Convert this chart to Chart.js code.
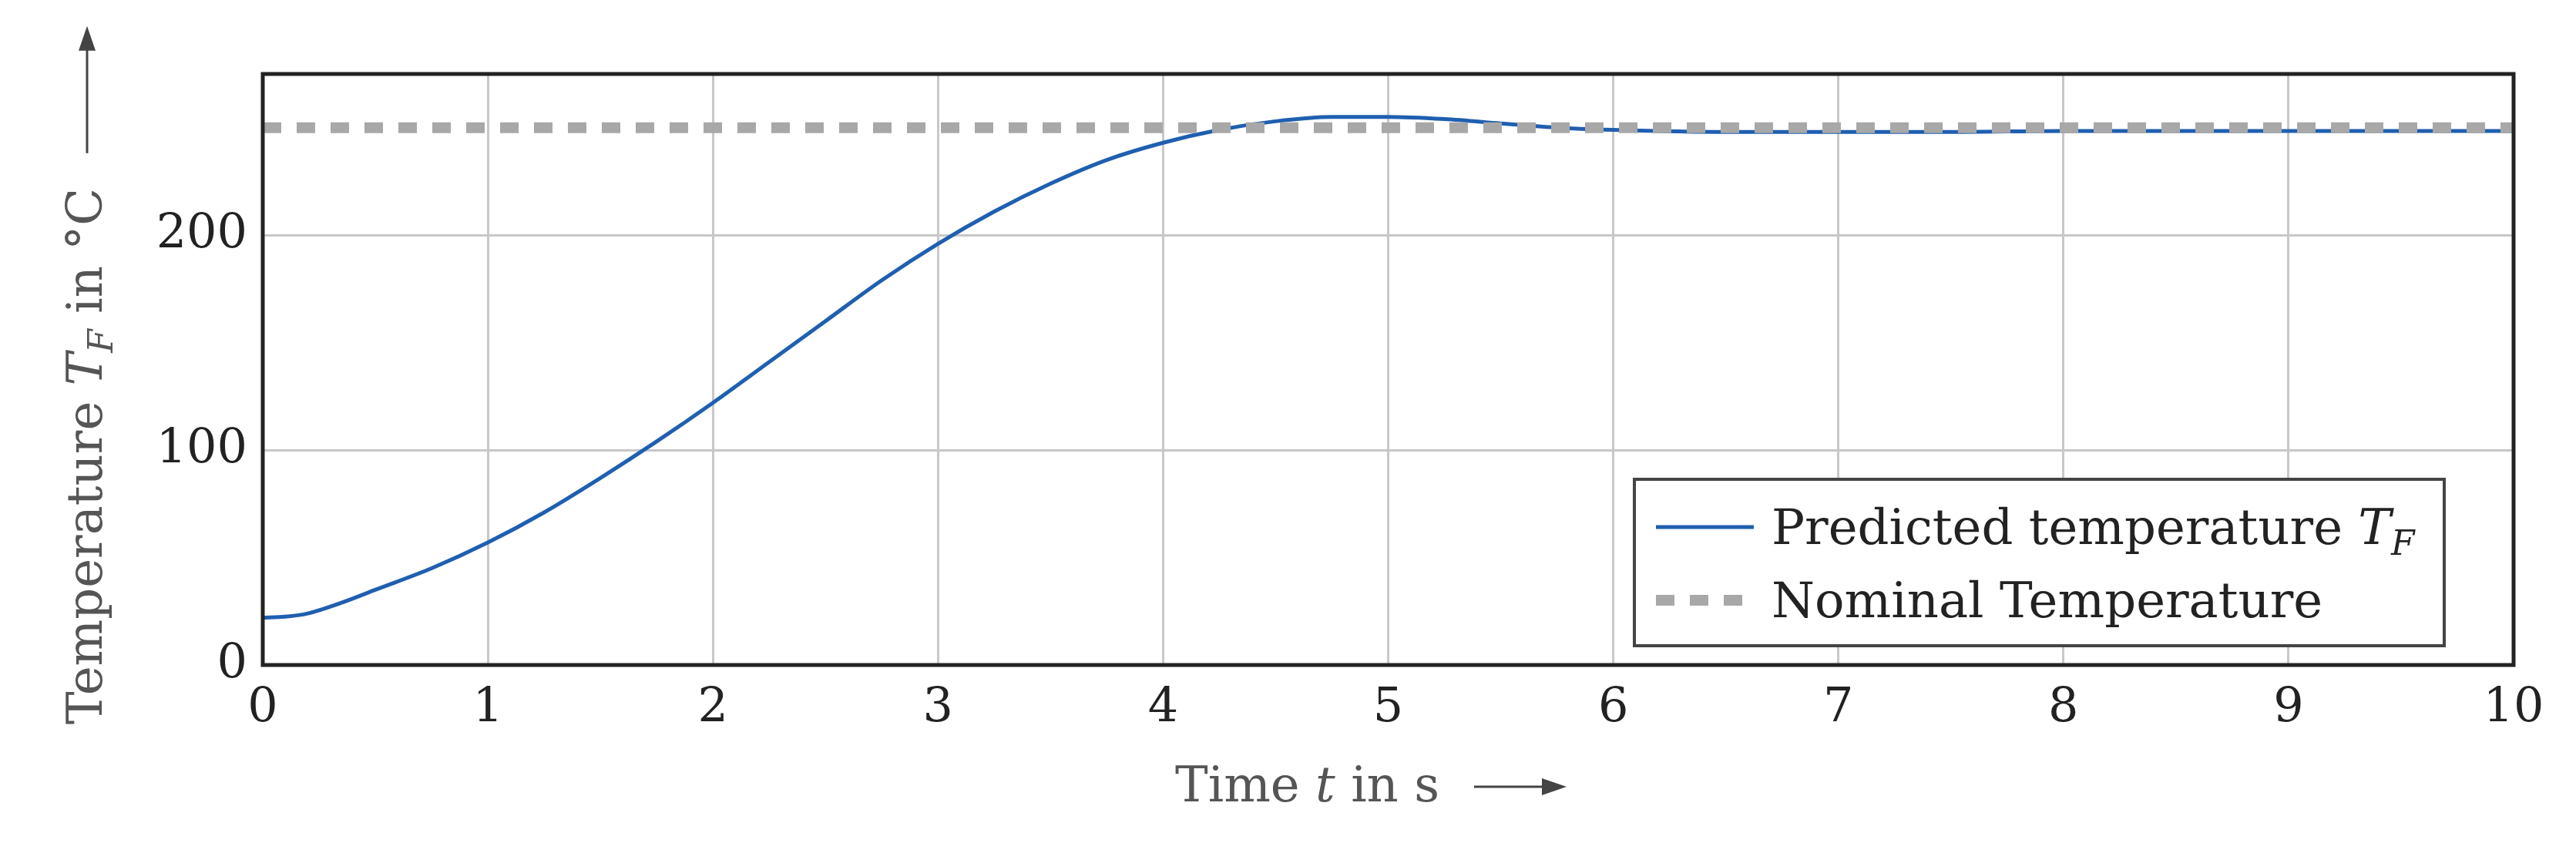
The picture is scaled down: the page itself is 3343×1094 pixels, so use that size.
<!DOCTYPE html>
<html><head><meta charset="utf-8">
<script src="https://cdn.jsdelivr.net/npm/chart.js@4/dist/chart.umd.min.js"></script>
<style>html,body{margin:0;padding:0;background:#fff}#w{width:3343px;height:1094px}</style>
</head><body><div id="w"><canvas id="c"></canvas></div>
<script>
const timeS = [0,0.1,0.2,0.35,0.5,0.75,1,1.25,1.5,1.75,2,2.25,2.5,2.75,3,3.25,3.5,3.75,4,4.25,4.5,4.75,5,5.25,5.5,5.75,6,6.5,7,7.5,8,8.5,9,9.5,10];
const predictedTF = [22,22.5,24,29,35,45,57,71,87,104,122,141,160,179,196,211,224,235,243,249,253,255,255,254,252,250,249,248,248,248,248.5,248.5,248.5,248.5,248.5];
const nominalT = [250,250];
const nominalTime = [0,10];
const xTicks = [0,1,2,3,4,5,6,7,8,9,10];
const yTicks = [0,100,200];
const FONT = '"DejaVu Serif","Liberation Serif",serif';

const overlay = {
  id:'overlay',
  afterDraw(ch){
    const c = ch.ctx, a = ch.chartArea;
    c.save();
    c.strokeStyle='#222'; c.lineWidth=5; c.strokeRect(a.left,a.top,a.right-a.left,a.bottom-a.top);
    c.fillStyle='#555'; c.textBaseline='alphabetic';
    let x=1525, y=1040;
    const seg=(t,f)=>{c.font=f; c.fillText(t,x,y); x+=c.measureText(t).width;};
    const N='64px '+FONT, I='italic 64px '+FONT, S='italic 44px '+FONT;
    seg('Time ',N); seg('t',I); seg(' in s',N);
    c.strokeStyle='#444'; c.lineWidth=3; c.beginPath(); c.moveTo(x+45,y-19); c.lineTo(x+150,y-19); c.stroke();
    c.beginPath(); c.moveTo(x+165,y-19); c.lineTo(x+133,y-30); c.lineTo(x+133,y-8); c.closePath(); c.fillStyle='#444'; c.fill();
    // y title
    c.translate(132,0); c.rotate(-Math.PI/2); c.fillStyle='#555';
    x=-940; y=0;
    seg('Temperature ',N); seg('T',I);
    c.font=S; c.fillText('F',x,y+14); x+=c.measureText('F').width;
    seg(' in °C',N);
    c.strokeStyle='#444'; c.beginPath(); c.moveTo(x+45,-19); c.lineTo(x+195,-19); c.stroke();
    c.beginPath(); c.moveTo(x+210,-19); c.lineTo(x+178,-30); c.lineTo(x+178,-8); c.closePath(); c.fillStyle='#444'; c.fill();
    c.setTransform(1,0,0,1,0,0);
    // legend
    const lx=2121, ly=622, lw=1051, lh=216;
    c.fillStyle='#fff'; c.fillRect(lx,ly,lw,lh);
    c.strokeStyle='#444'; c.lineWidth=4; c.strokeRect(lx,ly,lw,lh);
    c.strokeStyle='#1f5fb0'; c.lineWidth=5; c.beginPath(); c.moveTo(lx+28,ly+62); c.lineTo(lx+155,ly+62); c.stroke();
    c.strokeStyle='#a8a8a8'; c.lineWidth=14; c.setLineDash([24,20]); c.beginPath(); c.moveTo(lx+28,ly+157); c.lineTo(lx+155,ly+157); c.stroke(); c.setLineDash([]);
    c.fillStyle='#222'; x=lx+178; y=ly+84;
    seg('Predicted temperature ',N); seg('T',I);
    c.font=S; c.fillText('F',x,y+14);
    x=lx+178; y=ly+179; seg('Nominal Temperature',N);
    c.restore();
  }
};

new Chart(document.getElementById('c'),{
  type:'line',
  data:{datasets:[
    {label:'Nominal Temperature',data:nominalTime.map((t,i)=>({x:t,y:nominalT[i]})),borderColor:'#a8a8a8',borderWidth:14,borderDash:[24,20],pointRadius:0,order:1},
    {label:'Predicted temperature',data:timeS.map((t,i)=>({x:t,y:predictedTF[i]})),borderColor:'#1f5fb0',borderWidth:5,pointRadius:0,cubicInterpolationMode:'monotone',order:2}
  ]},
  options:{
    responsive:true,maintainAspectRatio:false,animation:false,devicePixelRatio:1,
    layout:{padding:{top:96,right:81,left:0,bottom:0}},
    plugins:{legend:{display:false},tooltip:{enabled:false}},
    scales:{
      x:{type:'linear',min:0,max:10,afterFit(s){s.height=231;},
        afterBuildTicks(s){s.ticks=xTicks.map(v=>({value:v}));},
        grid:{color:'#c8c8c8',lineWidth:3,drawTicks:false},border:{display:false},
        ticks:{color:'#222',font:{family:FONT,size:62},padding:20}},
      y:{min:0,max:275,afterFit(s){s.width=341;},
        afterBuildTicks(s){s.ticks=yTicks.map(v=>({value:v}));},
        grid:{color:'#c8c8c8',lineWidth:3,drawTicks:false},border:{display:false},
        ticks:{color:'#222',font:{family:FONT,size:62},padding:20}}
    }
  },
  plugins:[overlay]
});
</script></body></html>
